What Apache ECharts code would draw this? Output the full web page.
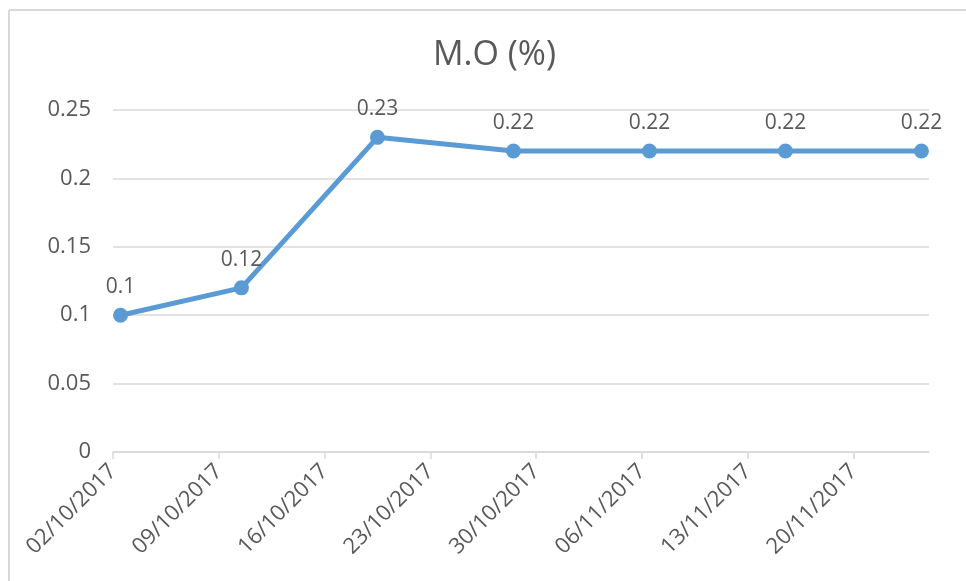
<!DOCTYPE html>
<html>
<head>
<meta charset="utf-8">
<script src="https://cdn.jsdelivr.net/npm/echarts@6/dist/echarts.min.js"></script>
<style>html,body{margin:0;padding:0;background:#fff}#c{width:966px;height:581px}</style>
</head>
<body>
<div id="c"></div>
<script>
const titleText = 'M.O (%)';
const dates = ['02/10/2017', '10/10/2017', '19/10/2017', '28/10/2017', '06/11/2017', '15/11/2017', '24/11/2017'];
const values = [0.1, 0.12, 0.23, 0.22, 0.22, 0.22, 0.22];
const axisStart = '02/10/2017';
const axisEnd = '25/11/2017';
const tickDates = ['02/10/2017', '09/10/2017', '16/10/2017', '23/10/2017', '30/10/2017', '06/11/2017', '13/11/2017', '20/11/2017'];
const yTicks = [0, 0.05, 0.1, 0.15, 0.2, 0.25];

const DAY = 86400000;
function parse(s) { const p = s.split('/'); return Date.UTC(+p[2], +p[1] - 1, +p[0]); }
const t0 = parse(axisStart);
function dayIdx(s) { return (parse(s) - t0) / DAY; }
function fmt(d) {
  const t = new Date(t0 + Math.round(d) * DAY);
  const dd = String(t.getUTCDate()).padStart(2, '0');
  const mm = String(t.getUTCMonth() + 1).padStart(2, '0');
  return dd + '/' + mm + '/' + t.getUTCFullYear();
}
const tickVals = tickDates.map(dayIdx);
const seriesData = dates.map((d, i) => [dayIdx(d) + 0.5, values[i]]);

const textColor = '#595959';
const gridColor = '#D9D9D9';
const font = 'Open Sans';

const chart = echarts.init(document.getElementById('c'));
chart.setOption({
  backgroundColor: '#fff',
  animation: false,
  title: {
    text: titleText, left: 428, top: 33,
    textStyle: { fontFamily: font, fontSize: 34, fontWeight: 'normal', color: textColor }
  },
  grid: { left: 113, right: 37, top: 110, bottom: 129, containLabel: false },
  xAxis: {
    type: 'value', min: 0, max: dayIdx(axisEnd),
    axisLine: { show: true, lineStyle: { color: gridColor, width: 1.5 } },
    axisTick: { show: true, length: 7, lineStyle: { color: gridColor, width: 1.5 }, customValues: tickVals },
    axisLabel: {
      customValues: tickVals, rotate: 45, margin: 16,
      formatter: v => fmt(v),
      fontFamily: font, fontSize: 22, color: textColor
    },
    splitLine: { show: false }
  },
  yAxis: {
    type: 'value', min: 0, max: 0.25, interval: 0.05,
    axisLine: { show: false }, axisTick: { show: false },
    axisLabel: { margin: 22, fontFamily: font, fontSize: 22, color: textColor,
      formatter: v => String(+v.toFixed(2)) },
    splitLine: { lineStyle: { color: gridColor, width: 1.5 } }
  },
  series: [{
    type: 'line', data: seriesData,
    symbol: 'circle', symbolSize: 15,
    lineStyle: { color: '#5B9BD5', width: 5 },
    itemStyle: { color: '#5B9BD5' },
    label: {
      show: true, position: 'top', distance: 10,
      formatter: p => String(p.value[1]),
      fontFamily: font, fontSize: 21, color: textColor
    }
  }],
  graphic: [
    { type: 'line', shape: { x1: 9, y1: 10, x2: 966, y2: 10 }, style: { stroke: gridColor, lineWidth: 2 } },
    { type: 'line', shape: { x1: 9, y1: 10, x2: 9, y2: 581 }, style: { stroke: gridColor, lineWidth: 2 } }
  ]
});
</script>
</body>
</html>
